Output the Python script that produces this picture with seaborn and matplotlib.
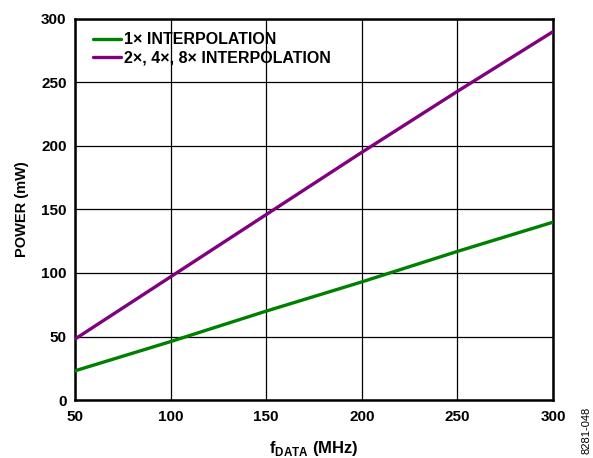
import numpy as np
import pandas as pd
import matplotlib
matplotlib.use("Agg")
import matplotlib.pyplot as plt
import seaborn as sns

# Data
f_data = [50, 100, 150, 200, 250, 300]
power_1x = [23, 46, 70, 93, 117, 140]
power_248x = [48, 97, 146, 195, 243, 290]
series_names = ["1× INTERPOLATION", "2×, 4×, 8× INTERPOLATION"]
series_colors = ["#008000", "#800080"]
x_ticks = [50, 100, 150, 200, 250, 300]
y_ticks = [0, 50, 100, 150, 200, 250, 300]

df = pd.DataFrame({
    "f": f_data * 2,
    "Power": power_1x + power_248x,
    "Series": [series_names[0]] * len(f_data) + [series_names[1]] * len(f_data),
})

sns.set_style("white")
plt.rcParams["font.family"] = ["Liberation Sans", "DejaVu Sans"]
plt.rcParams["font.weight"] = "bold"
plt.rcParams["text.color"] = "black"
plt.rcParams["axes.labelcolor"] = "black"
plt.rcParams["xtick.color"] = "black"
plt.rcParams["ytick.color"] = "black"
plt.rcParams["mathtext.fontset"] = "custom"
plt.rcParams["mathtext.rm"] = "Liberation Sans:bold"
plt.rcParams["mathtext.bf"] = "Liberation Sans:bold"

fig = plt.figure(figsize=(5.93, 4.58), dpi=100)
ax = fig.add_axes([0.1265, 0.1266, 0.806, 0.832])

sns.lineplot(data=df, x="f", y="Power", hue="Series", palette=series_colors,
             linewidth=2.4, ax=ax, zorder=3)

ax.set_xlim(50, 300)
ax.set_ylim(0, 300)
ax.set_xticks(x_ticks)
ax.set_yticks(y_ticks)
ax.grid(True, color="black", linewidth=0.9)
ax.tick_params(axis="x", length=0, labelsize=11, pad=7)
ax.tick_params(axis="y", length=0, labelsize=11, pad=6)
for lbl in ax.get_xticklabels() + ax.get_yticklabels():
    lbl.set_fontweight("bold")
for sp in ax.spines.values():
    sp.set_color("black")
    sp.set_linewidth(1.8)
    sp.set_visible(True)

ax.set_xlabel(r"f$_{\mathbf{DATA}}$ (MHz)", fontsize=12, fontweight="bold", labelpad=11)
ax.set_ylabel("POWER (mW)", fontsize=10.5, fontweight="bold", labelpad=9)

leg = ax.legend(loc="upper left", frameon=False, fontsize=11.5, handlelength=1.7,
                handletextpad=0.25, labelspacing=0.2, borderaxespad=0.0,
                bbox_to_anchor=(0.025, 0.982))
for t in leg.get_texts():
    t.set_fontweight("bold")

fig.text(0.989, 0.06, "8281-048", rotation=90, fontsize=8, fontweight="normal",
         ha="center", va="center")

fig.savefig("out.png", dpi=100)
